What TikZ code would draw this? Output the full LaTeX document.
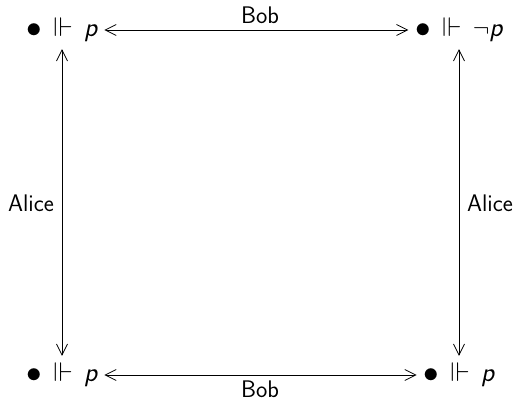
\documentclass[tikz,border=0pt]{standalone}
\usepackage{amsmath,amssymb}
\usepackage{graphicx}
\usetikzlibrary{arrows.meta}
\newcommand\mybul{\mathord{\vcenter{\hbox{\scalebox{1.25}{$\bullet$}}}}}
\newcommand\myp{\text{\sffamily\itshape p}}
\begin{document}
\begin{tikzpicture}[x=1pt,y=-1pt,
  corner/.style={font=\fontsize{27}{31}\selectfont, inner sep=0pt},
  lab/.style={font=\sffamily\fontsize{24}{28}\selectfont, inner sep=0pt},
  arr/.style={{Straight Barb[length=11pt,width=11pt]}-{Straight Barb[length=11pt,width=11pt]}, line width=0.8pt, shorten <=7pt, shorten >=7pt}]
\useasboundingbox (0,0) rectangle (514,401);
\node[corner] (tl) at (62,30) {$\mybul\,\Vdash\,\myp$};
\node[corner] (tr) at (459,30) {$\mybul\,\Vdash\,\neg\myp$};
\node[corner] (bl) at (62,375) {$\mybul\,\Vdash\,\myp$};
\node[corner] (br) at (459,375) {$\mybul\,\Vdash\,\myp$};
\draw[arr] (tl) -- (tr);
\draw[arr] (bl) -- (br);
\draw[arr] (tl) -- (bl);
\draw[arr] (tr) -- (br);
\node[lab] (bobt) at (260,15) {Bob};
\node[lab] (bobb) at (260,389) {Bob};
\node[lab] (alicel) at (31,203) {Alice};
\node[lab] (alicer) at (490,203) {Alice};
\end{tikzpicture}
\end{document}
